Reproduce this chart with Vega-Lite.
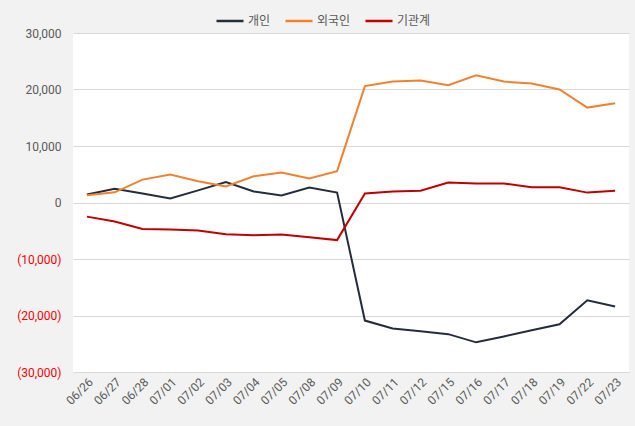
{
  "$schema": "https://vega.github.io/schema/vega-lite/v6.json",
  "width": 556,
  "height": 339,
  "autosize": {"type": "none"},
  "padding": {"left": 73, "top": 33, "right": 6, "bottom": 54},
  "background": "#f2f2f2",
  "config": {
    "view": {"fill": "#ffffff", "stroke": null},
    "font": "Roboto"
  },
  "datasets": {
    "flows": [
      {"date": "06/26", "investor": "개인", "value": 1400},
      {"date": "06/27", "investor": "개인", "value": 2450},
      {"date": "06/28", "investor": "개인", "value": 1600},
      {"date": "07/01", "investor": "개인", "value": 700},
      {"date": "07/02", "investor": "개인", "value": 2150},
      {"date": "07/03", "investor": "개인", "value": 3600},
      {"date": "07/04", "investor": "개인", "value": 1950},
      {"date": "07/05", "investor": "개인", "value": 1250},
      {"date": "07/08", "investor": "개인", "value": 2650},
      {"date": "07/09", "investor": "개인", "value": 1750},
      {"date": "07/10", "investor": "개인", "value": -20900},
      {"date": "07/11", "investor": "개인", "value": -22300},
      {"date": "07/12", "investor": "개인", "value": -22800},
      {"date": "07/15", "investor": "개인", "value": -23300},
      {"date": "07/16", "investor": "개인", "value": -24750},
      {"date": "07/17", "investor": "개인", "value": -23700},
      {"date": "07/18", "investor": "개인", "value": -22600},
      {"date": "07/19", "investor": "개인", "value": -21550},
      {"date": "07/22", "investor": "개인", "value": -17300},
      {"date": "07/23", "investor": "개인", "value": -18400},
      {"date": "06/26", "investor": "외국인", "value": 1300},
      {"date": "06/27", "investor": "외국인", "value": 1800},
      {"date": "06/28", "investor": "외국인", "value": 4050},
      {"date": "07/01", "investor": "외국인", "value": 4950},
      {"date": "07/02", "investor": "외국인", "value": 3750},
      {"date": "07/03", "investor": "외국인", "value": 2850},
      {"date": "07/04", "investor": "외국인", "value": 4650},
      {"date": "07/05", "investor": "외국인", "value": 5300},
      {"date": "07/08", "investor": "외국인", "value": 4250},
      {"date": "07/09", "investor": "외국인", "value": 5550},
      {"date": "07/10", "investor": "외국인", "value": 20600},
      {"date": "07/11", "investor": "외국인", "value": 21400},
      {"date": "07/12", "investor": "외국인", "value": 21600},
      {"date": "07/15", "investor": "외국인", "value": 20750},
      {"date": "07/16", "investor": "외국인", "value": 22500},
      {"date": "07/17", "investor": "외국인", "value": 21400},
      {"date": "07/18", "investor": "외국인", "value": 21050},
      {"date": "07/19", "investor": "외국인", "value": 20000},
      {"date": "07/22", "investor": "외국인", "value": 16800},
      {"date": "07/23", "investor": "외국인", "value": 17550},
      {"date": "06/26", "investor": "기관계", "value": -2500},
      {"date": "06/27", "investor": "기관계", "value": -3350},
      {"date": "06/28", "investor": "기관계", "value": -4700},
      {"date": "07/01", "investor": "기관계", "value": -4780},
      {"date": "07/02", "investor": "기관계", "value": -4950},
      {"date": "07/03", "investor": "기관계", "value": -5600},
      {"date": "07/04", "investor": "기관계", "value": -5780},
      {"date": "07/05", "investor": "기관계", "value": -5650},
      {"date": "07/08", "investor": "기관계", "value": -6150},
      {"date": "07/09", "investor": "기관계", "value": -6650},
      {"date": "07/10", "investor": "기관계", "value": 1600},
      {"date": "07/11", "investor": "기관계", "value": 1950},
      {"date": "07/12", "investor": "기관계", "value": 2100},
      {"date": "07/15", "investor": "기관계", "value": 3550},
      {"date": "07/16", "investor": "기관계", "value": 3350},
      {"date": "07/17", "investor": "기관계", "value": 3350},
      {"date": "07/18", "investor": "기관계", "value": 2700},
      {"date": "07/19", "investor": "기관계", "value": 2700},
      {"date": "07/22", "investor": "기관계", "value": 1750},
      {"date": "07/23", "investor": "기관계", "value": 2100}
    ]
  },
  "data": {"name": "flows"},
  "mark": {"type": "line", "strokeWidth": 2},
  "encoding": {
    "x": {
      "field": "date",
      "type": "ordinal",
      "sort": null,
      "scale": {"type": "point", "padding": 0.5},
      "axis": {
        "title": null,
        "labelAngle": -45,
        "labelAlign": "right",
        "labelBaseline": "top",
        "labelColor": "#595959",
        "labelFontSize": 12,
        "labelPadding": 4,
        "domain": false,
        "ticks": false,
        "grid": false
      }
    },
    "y": {
      "field": "value",
      "type": "quantitative",
      "scale": {"domain": [-30000, 30000], "nice": false, "zero": false},
      "axis": {
        "title": null,
        "values": [-30000, -20000, -10000, 0, 10000, 20000, 30000],
        "labelExpr": "datum.value < 0 ? '(' + format(-datum.value, ',') + ')' : format(datum.value, ',')",
        "labelColor": {"expr": "datum.value < 0 ? '#ff0000' : '#595959'"},
        "labelFontSize": 12,
        "labelPadding": 12,
        "domain": false,
        "ticks": false,
        "grid": true,
        "gridColor": "#d9d9d9",
        "gridWidth": 1
      }
    },
    "color": {
      "field": "investor",
      "type": "nominal",
      "scale": {"domain": ["개인", "외국인", "기관계"], "range": ["#252d3b", "#f0822f", "#c00000"]},
      "legend": {
        "title": null,
        "orient": "none",
        "legendX": 142,
        "legendY": -27,
        "direction": "horizontal",
        "symbolType": "stroke",
        "symbolStrokeWidth": 2.5,
        "symbolSize": 729,
        "labelFont": "Noto Sans CJK KR",
        "labelFontSize": 12,
        "labelColor": "#595959",
        "columnPadding": 9,
        "labelOffset": 3
      }
    }
  }
}
